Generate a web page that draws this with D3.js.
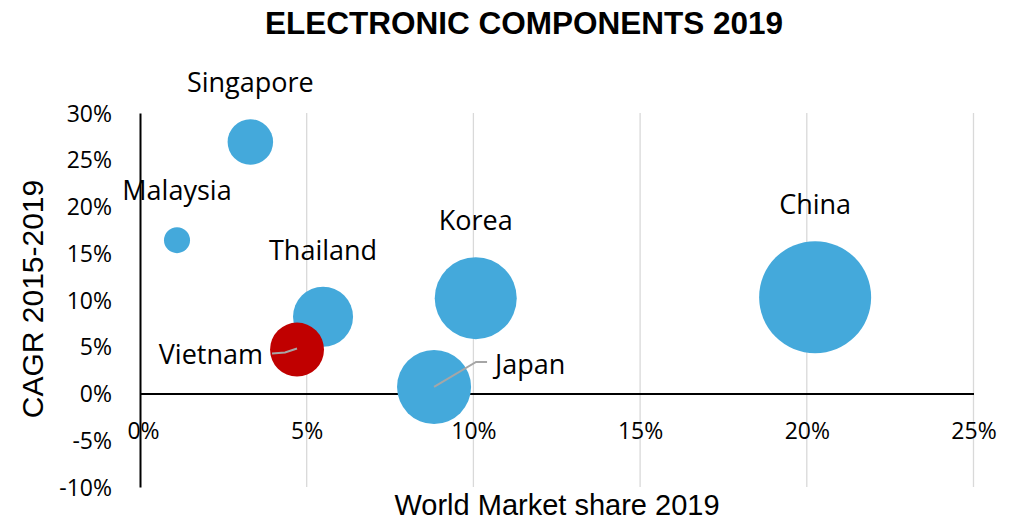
<!DOCTYPE html>
<html>
<head>
<meta charset="utf-8">
<script src="https://cdn.jsdelivr.net/npm/d3@7"></script>
<style>
  html, body { margin: 0; padding: 0; background: #fff; }
  svg { display: block; }
</style>
</head>
<body>
<svg id="chart" width="1015" height="522"></svg>
<script>
// ---- data ----
const countries = ["Singapore", "Malaysia", "Thailand", "Vietnam", "Korea", "Japan", "China"];
const marketShare = [3.31, 1.11, 5.49, 4.71, 10.07, 8.82, 20.25];   // World market share 2019 (%)
const cagr = [26.9, 16.4, 8.2, 4.7, 10.2, 0.7, 10.3];               // CAGR 2015-2019 (%)
const bubbleSize = [16.5, 5.4, 28.7, 23.2, 53.6, 43.7, 100];        // relative bubble size
const xTicks = [0, 5, 10, 15, 20, 25];
const yTicks = [-10, -5, 0, 5, 10, 15, 20, 25, 30];
const highlight = "Vietnam";

// ---- layout ----
const svg = d3.select("#chart");
const x = d3.scaleLinear().domain([0, 25]).range([140, 973.5]);
const y = d3.scaleLinear().domain([-10, 30]).range([487, 113]);
const r = d3.scaleSqrt().domain([0, 100]).range([0, 56]);

const FONT_LABEL = "'Open Sans', sans-serif";
const FONT_ARIAL = "'Liberation Sans', Arial, sans-serif";

// title
svg.append("text")
  .attr("x", 524).attr("y", 34)
  .attr("text-anchor", "middle")
  .style("font-family", FONT_ARIAL).style("font-weight", "bold").style("font-size", "31.5px")
  .text("ELECTRONIC COMPONENTS 2019");

// vertical gridlines
svg.append("g").selectAll("line")
  .data(xTicks.filter(d => d !== 0)).join("line")
  .attr("x1", d => x(d)).attr("x2", d => x(d))
  .attr("y1", y(30)).attr("y2", y(-10))
  .attr("stroke", "#d9d9d9").attr("stroke-width", 1.3);

// y axis
const yAxis = d3.axisLeft(y).tickValues(yTicks).tickSize(0).tickPadding(0)
  .tickFormat(d => d + "%");
const gy = svg.append("g").attr("transform", `translate(${x(0)},0)`).call(yAxis);
gy.select(".domain").attr("stroke", "#000").attr("stroke-width", 2);
gy.selectAll("text")
  .attr("x", -28).attr("dy", "0.35em")
  .style("font-family", FONT_LABEL).style("font-size", "23px").attr("fill", "#000");

// x axis at y = 0
const xAxis = d3.axisBottom(x).tickValues(xTicks).tickSize(0).tickPadding(0)
  .tickFormat(d => d + "%");
const gx = svg.append("g").attr("transform", `translate(0,${y(0)})`).call(xAxis);
gx.select(".domain").attr("stroke", "#000").attr("stroke-width", 2);
gx.selectAll("text")
  .attr("y", 37).attr("dy", "0.35em")
  .style("font-family", FONT_LABEL).style("font-size", "23px").attr("fill", "#000");
gx.selectAll(".tick").filter(d => d === 0).select("text").attr("x", 3);

// axis titles
svg.append("text")
  .attr("x", 557).attr("y", 515)
  .attr("text-anchor", "middle")
  .style("font-family", FONT_ARIAL).style("font-size", "29px")
  .text("World Market share 2019");
svg.append("text")
  .attr("transform", "translate(43,299) rotate(-90)")
  .attr("text-anchor", "middle")
  .style("font-family", FONT_ARIAL).style("font-size", "30px")
  .text("CAGR 2015-2019");

// bubbles
const data = countries.map((c, i) => ({ name: c, x: marketShare[i], y: cagr[i], s: bubbleSize[i] }));
svg.append("g").selectAll("circle")
  .data(data).join("circle")
  .attr("cx", d => x(d.x)).attr("cy", d => y(d.y)).attr("r", d => r(d.s))
  .attr("fill", d => d.name === highlight ? "#c00000" : "#44a9db");

// labels: default above the bubble; Vietnam & Japan moved with leader lines
const labelOffsets = {
  Vietnam: { dx: -34, dy: 14, anchor: "end", leader: [[-25, 4], [-12, 3], [0, -1]] },
  Japan:   { dx: 61, dy: -13, anchor: "start", leader: [[0, 0], [42, -25], [53, -25]] }
};
const lab = svg.append("g");
data.forEach(d => {
  const cx = x(d.x), cy = y(d.y), rr = r(d.s);
  const o = labelOffsets[d.name];
  if (o) {
    lab.append("path")
      .attr("d", d3.line()(o.leader.map(p => [cx + p[0], cy + p[1]])))
      .attr("fill", "none").attr("stroke", "#a6a6a6").attr("stroke-width", 2);
    lab.append("text")
      .attr("x", cx + o.dx).attr("y", cy + o.dy)
      .attr("text-anchor", o.anchor)
      .style("font-family", FONT_LABEL).style("font-size", "27px")
      .text(d.name);
  } else {
    lab.append("text")
      .attr("x", cx).attr("y", cy - rr - 27)
      .attr("text-anchor", "middle")
      .style("font-family", FONT_LABEL).style("font-size", "27px")
      .text(d.name);
  }
});
</script>
</body>
</html>
